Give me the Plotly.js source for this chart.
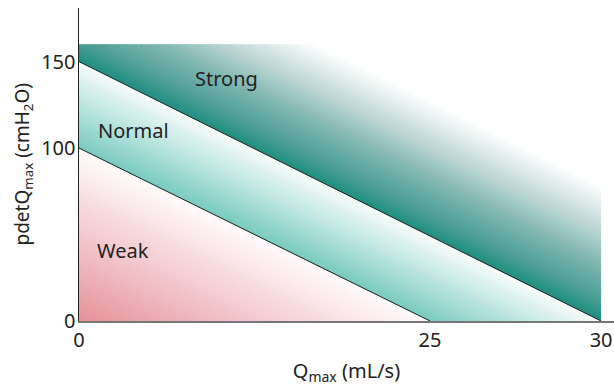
<!DOCTYPE html>
<html><head><meta charset="utf-8">
<script src="https://cdn.plot.ly/plotly-3.0.1.min.js"></script>
<style>html,body{margin:0;padding:0;background:#fff}</style>
</head><body><div id="chart" style="width:614px;height:387px"></div>
<script>
// ---- data ----
const xTickValues = [0, 25, 30];          // Qmax ticks (mL/s)
const yTickValues = [0, 100, 150];        // pdetQmax ticks (cmH2O)
const weakLineQ = [0, 25];                // weak / normal boundary
const weakLineP = [100, 0];
const strongLineQ = [0, 30];              // normal / strong boundary
const strongLineP = [150, 0];
const strongTopP = 160;                   // upper limit of the strong zone
const strongFadeP = 228;                  // where the strong shading fades out (p-intercept)
const regionLabels = ['Strong', 'Normal', 'Weak'];
const labelQ = [10.5, 3.9, 3.1];
const labelP = [140, 110, 41];

// schematic x scale (the 25–30 stretch is drawn wider)
const STRETCH = 2.436;
function xs(q){ return q <= 25 ? q : 25 + (q - 25) * STRETCH; }

const XMAX = xs(strongLineQ[1]);

function clipHalf(pts, f){
  const out = [];
  for (let i = 0; i < pts.length; i++){
    const a = pts[i], b = pts[(i + 1) % pts.length];
    const fa = f(a), fb = f(b);
    if (fa <= 0) out.push(a);
    if ((fa <= 0) !== (fb <= 0)){
      const t = fa / (fa - fb);
      out.push([a[0] + t * (b[0] - a[0]), a[1] + t * (b[1] - a[1])]);
    }
  }
  return out;
}
function lerpColor(stops, s){
  for (let i = 0; i < stops.length - 1; i++){
    const [s0, c0] = stops[i], [s1, c1] = stops[i + 1];
    if (s <= s1 || i === stops.length - 2){
      const t = Math.max(0, Math.min(1, (s - s0) / (s1 - s0)));
      const c = c0.map((v, k) => Math.round(v + t * (c1[k] - v)));
      return 'rgb(' + c.join(',') + ')';
    }
  }
}
// shaded band between line A (intercepts aX,aY) and line B (bX,bY)
function bandTraces(aX, aY, bX, bY, stops, n){
  const tr = [];
  for (let i = 0; i < n; i++){
    const s1 = i / n, s2 = Math.min(1, (i + 1.6) / n);
    const X1 = aX + s1 * (bX - aX), Y1 = aY + s1 * (bY - aY);
    const X2 = aX + s2 * (bX - aX), Y2 = aY + s2 * (bY - aY);
    let poly = [[0, Y1], [X1, 0], [X2, 0], [0, Y2]];
    poly = clipHalf(poly, p => p[0] - XMAX);
    poly = clipHalf(poly, p => p[1] - strongTopP);
    if (poly.length < 3) continue;
    const col = lerpColor(stops, (i + 0.5) / n);
    tr.push({
      type: 'scatter', mode: 'lines', fill: 'toself',
      x: poly.map(p => p[0]).concat([poly[0][0]]),
      y: poly.map(p => p[1]).concat([poly[0][1]]),
      line: {width: 0, color: col}, fillcolor: col,
      hoverinfo: 'skip', showlegend: false
    });
  }
  return tr;
}

const wX = xs(weakLineQ[1]), wY = weakLineP[0];
const sX = xs(strongLineQ[1]), sY = strongLineP[0];
const fY = strongFadeP, fX = sX * fY / sY;

const traces = [];
traces.push(...bandTraces(0, 0, wX, wY,
  [[0, [230, 145, 155]], [0.5, [242, 200, 205]], [1, [255, 251, 251]]], 50));
traces.push(...bandTraces(wX, wY, sX, sY,
  [[0, [122, 202, 192]], [0.5, [186, 229, 223]], [1, [247, 252, 251]]], 50));
traces.push(...bandTraces(sX, sY, fX, fY,
  [[0, [30, 143, 128]], [0.15, [75, 158, 149]], [0.4, [125, 181, 175]], [0.65, [185, 212, 210]], [1, [255, 255, 255]]], 60));

traces.push({type: 'scatter', mode: 'lines', x: weakLineQ.map(xs), y: weakLineP,
  line: {color: '#1c1c1c', width: 1}, hoverinfo: 'skip', showlegend: false});
traces.push({type: 'scatter', mode: 'lines', x: strongLineQ.map(xs), y: strongLineP,
  line: {color: '#1c1c1c', width: 1}, hoverinfo: 'skip', showlegend: false});

const font = {family: '"Noto Sans", "Open Sans", sans-serif', size: 20, color: '#222'};
const yTitleFont = {family: '"Noto Sans", "Open Sans", sans-serif', size: 19, color: '#222'};

const annotations = regionLabels.map((t, i) => ({
  text: t, x: xs(labelQ[i]), y: labelP[i], xref: 'x', yref: 'y',
  showarrow: false, font: font
}));
annotations.push({
  text: 'pdetQ<sub>max</sub> (cmH<sub>2</sub>O)', textangle: -90,
  xref: 'paper', yref: 'paper', x: -0.1065, y: 0.5,
  xanchor: 'center', yanchor: 'middle', showarrow: false, font: yTitleFont
});

const layout = {
  width: 614, height: 387,
  margin: {l: 79, r: 0, t: 8, b: 66},
  paper_bgcolor: '#fff', plot_bgcolor: '#fff',
  showlegend: false,
  font: font,
  xaxis: {
    range: [0, 38.1], tickvals: xTickValues.map(xs), ticktext: xTickValues.map(String),
    showgrid: false, zeroline: false, showline: true, linecolor: '#777', linewidth: 2,
    ticks: '', tickfont: font, fixedrange: true,
    title: {text: 'Q<sub>max</sub> (mL/s)', font: font, standoff: 12}
  },
  yaxis: {
    range: [0, 181], tickvals: yTickValues,
    showgrid: false, zeroline: false, showline: true, linecolor: '#222', linewidth: 1.5,
    ticks: '', tickfont: font, fixedrange: true, ticklabelstandoff: -2
  },
  annotations: annotations
};

Plotly.newPlot('chart', traces, layout, {staticPlot: true, displayModeBar: false});
</script></body></html>
